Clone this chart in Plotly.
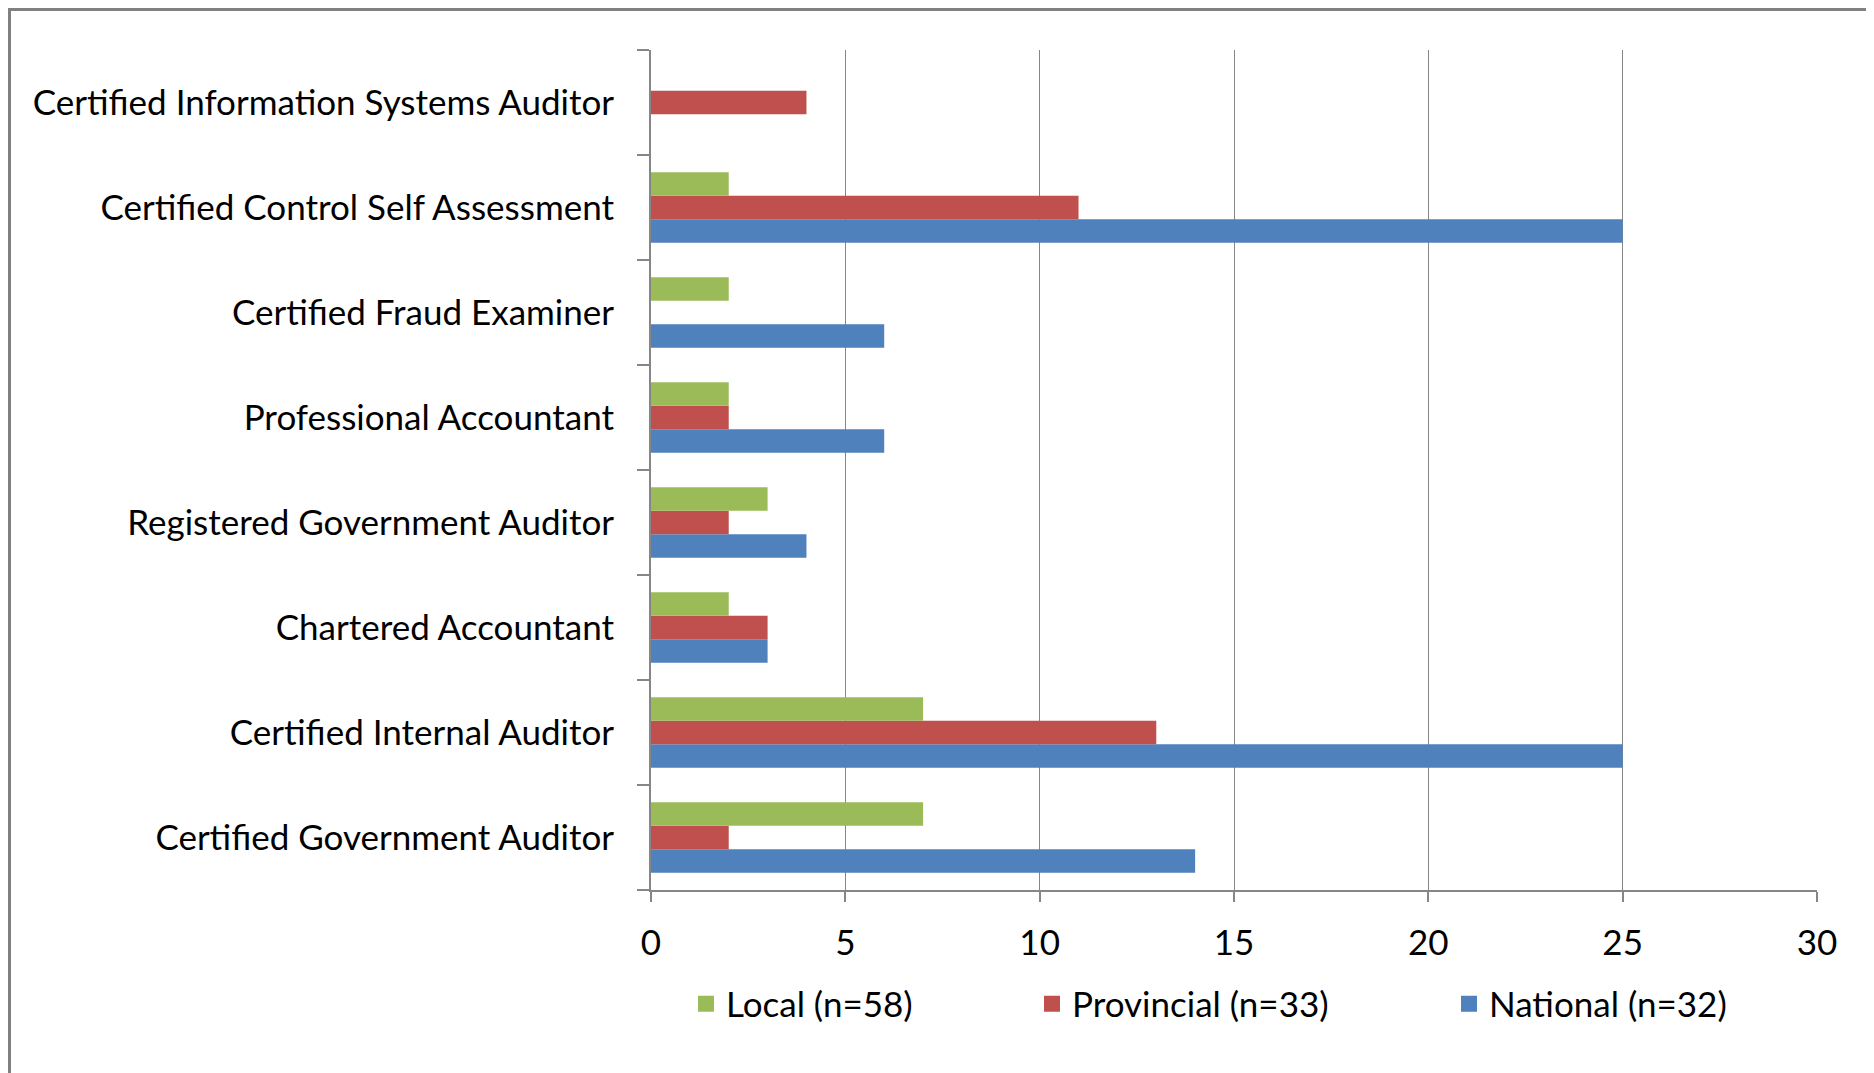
import plotly.graph_objects as go

categories = [
    "Certified Government Auditor",
    "Certified Internal Auditor",
    "Chartered Accountant",
    "Registered Government Auditor",
    "Professional Accountant",
    "Certified Fraud Examiner",
    "Certified Control Self Assessment",
    "Certified Information Systems Auditor",
]
local_vals = [7, 7, 2, 3, 2, 2, 2, 0]
provincial_vals = [2, 13, 3, 2, 2, 0, 11, 4]
national_vals = [14, 25, 3, 4, 6, 6, 25, 0]

series_names = ["National (n=32)", "Provincial (n=33)", "Local (n=58)"]
series_vals = [national_vals, provincial_vals, local_vals]
series_colors = ["#4F81BD", "#C0504D", "#9BBB59"]
legend_ids = ["legend3", "legend2", "legend"]

x_ticks = [0, 5, 10, 15, 20, 25, 30]

OFF = 8  # page body margin
W, H = 1874 - OFF, 1073 - OFF
L = 651 - OFF
T = 50 - OFF
plot_right = 1817 - OFF
plot_bottom = 890 - OFF
R = W - plot_right
B = H - plot_bottom
plot_w = plot_right - L
plot_h = plot_bottom - T

FONT = "Lato"
FS = 35
GRAY = "#868686"

def px_x(fx):
    return (fx - L) / plot_w

def px_y(fy):
    return (plot_bottom - fy) / plot_h

fig = go.Figure()
for name, vals, col in zip(series_names, series_vals, series_colors):
    fig.add_trace(go.Bar(
        y=categories, x=vals, name=name, orientation="h",
        marker=dict(color=col, line=dict(width=0)),
        showlegend=False,
    ))
# legend entries (square swatches like the original)
for name, col, lg in zip(series_names, series_colors, legend_ids):
    fig.add_trace(go.Scatter(
        x=[None], y=[None], mode="markers", name=name,
        marker=dict(symbol="square", size=22, color=col),
        showlegend=True, legend=lg,
    ))

legend_centers = {"legend": 706 - OFF, "legend2": 1052 - OFF, "legend3": 1469 - OFF}
legend_y = 1004 - OFF

def legend_cfg(lg):
    return dict(
        orientation="h", x=px_x(legend_centers[lg] - 20), xanchor="left",
        y=px_y(legend_y), yanchor="middle",
        font=dict(family=FONT, size=FS, color="black"),
        itemwidth=30, bgcolor="rgba(0,0,0,0)",
    )

fig.update_layout(
    width=W, height=H,
    margin=dict(l=L, r=R, t=T, b=B, pad=0),
    paper_bgcolor="white", plot_bgcolor="white",
    barmode="group", bargap=0.33, bargroupgap=0,
    font=dict(family=FONT, size=FS, color="black"),
    legend=legend_cfg("legend"),
    legend2=legend_cfg("legend2"),
    legend3=legend_cfg("legend3"),
    xaxis=dict(
        range=[0, 30], tickvals=x_ticks, ticktext=[str(v) for v in x_ticks],
        showgrid=True, gridcolor=GRAY, gridwidth=1,
        showline=True, linecolor=GRAY, linewidth=2,
        ticks="outside", ticklen=10, tickcolor=GRAY, tickwidth=2,
        zeroline=False, ticklabelstandoff=11,
        tickfont=dict(family=FONT, size=FS, color="black"),
        fixedrange=True,
    ),
    yaxis=dict(
        categoryorder="array", categoryarray=categories,
        showline=True, linecolor=GRAY, linewidth=2,
        ticks="outside", ticklen=12, tickcolor=GRAY, tickwidth=2,
        tickson="boundaries",
        showgrid=False, zeroline=False, ticklabelstandoff=28,
        tickfont=dict(family=FONT, size=FS, color="black"),
        fixedrange=True,
    ),
    shapes=[dict(
        type="rect", xref="paper", yref="paper",
        x0=px_x(1.5), x1=px_x(W + 20),
        y0=px_y(H + 20), y1=px_y(1.5),
        line=dict(color="#808080", width=3), fillcolor="rgba(0,0,0,0)",
        layer="below",
    )],
)

fig.write_html("out.html")
